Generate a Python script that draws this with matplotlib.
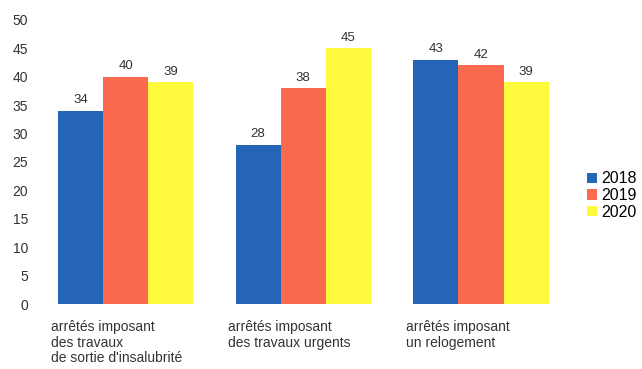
import matplotlib.pyplot as plt
import numpy as np

plt.rcParams['font.family'] = ['Liberation Sans', 'DejaVu Sans']

categories = ["arrêtés imposant\ndes travaux\nde sortie d'insalubrité",
              "arrêtés imposant\ndes travaux urgents",
              "arrêtés imposant\nun relogement"]
years = ["2018", "2019", "2020"]
values = {
    "2018": [34, 28, 43],
    "2019": [40, 38, 42],
    "2020": [39, 45, 39],
}
colors = ["#2465b8", "#fb6a4e", "#fdfa3e"]
yticks = [0, 5, 10, 15, 20, 25, 30, 35, 40, 45, 50]

fig = plt.figure(figsize=(6.42, 3.69), dpi=100)
ax = fig.add_axes([0.0545, 0.176, 0.833, 0.770])

x = np.arange(len(categories))
w = 0.254
for i, yr in enumerate(years):
    pos = x + (i - 1) * w
    bars = ax.bar(pos, values[yr], width=w, color=colors[i], label=yr)
    for b, v in zip(bars, values[yr]):
        ax.text(b.get_x() + b.get_width() / 2, v + 0.8, str(v),
                ha="center", va="bottom", fontsize=9.5, color="#333333")

ax.set_xlim(-0.51, 2.50)
ax.set_ylim(0, 50)
ax.set_yticks(yticks)
ax.tick_params(axis="y", length=0, pad=5, labelsize=10, labelcolor="#333333")
ax.set_xticks([])
for s in ax.spines.values():
    s.set_visible(False)

for xi, cat in zip(x, categories):
    ax.text(xi - 1.5 * w - 0.04, -2.8, cat, ha="left", va="top",
            fontsize=10, color="#333333", linespacing=1.15)

leg = fig.legend(loc="center left", bbox_to_anchor=(0.905, 0.47), frameon=False,
                 fontsize=11.5, handlelength=0.6, handleheight=0.6,
                 handletextpad=0.25, labelspacing=0.1, borderaxespad=0)

fig.savefig("out.png", dpi=100)
